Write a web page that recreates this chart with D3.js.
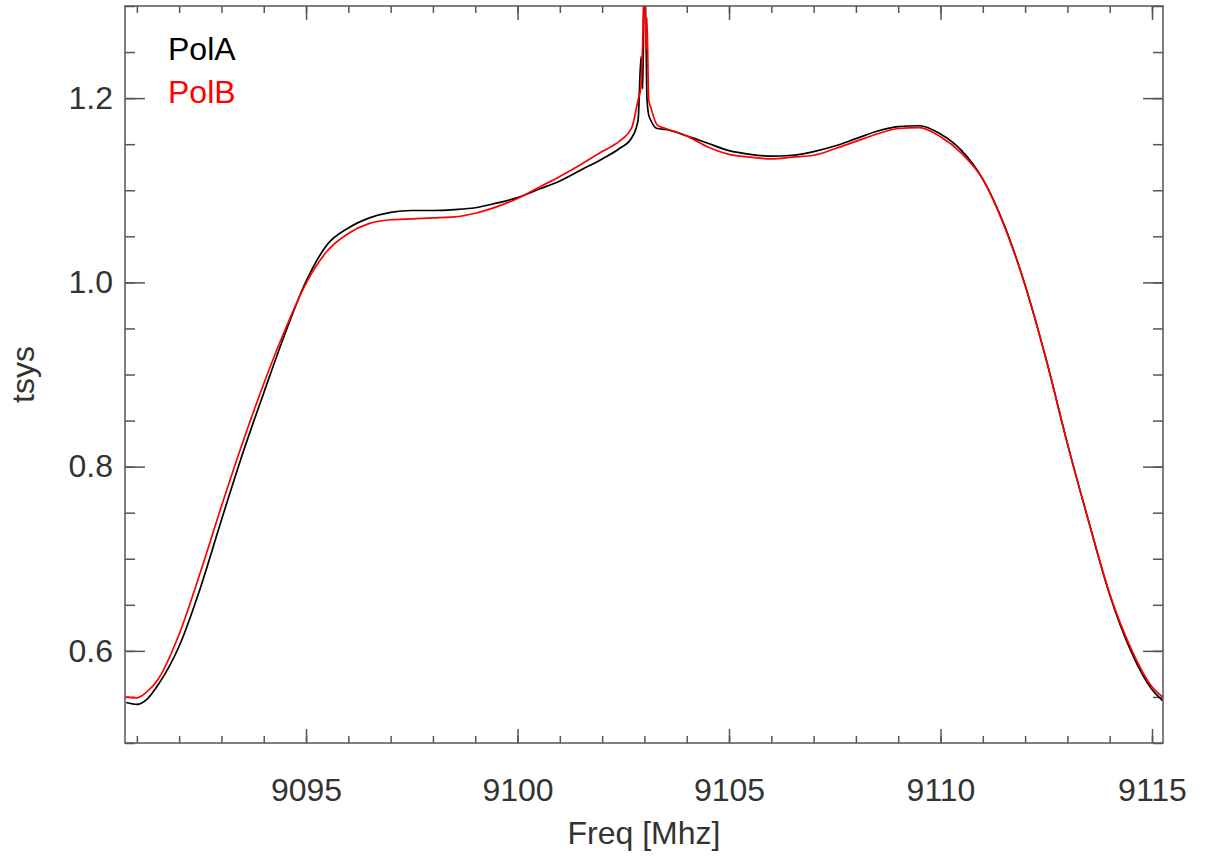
<!DOCTYPE html>
<html>
<head>
<meta charset="utf-8">
<script src="https://cdn.jsdelivr.net/npm/d3@7"></script>
<style>
  body { margin: 0; background: #fff; }
  text { font-family: "Liberation Sans", Arial, sans-serif; }
</style>
</head>
<body>
<svg id="chart"></svg>
<script>
// frequency grid [MHz], dense around the spike near 9103
const freq = [
  9090.75, 9091.0, 9091.25, 9091.5, 9092.0, 9092.5, 9093.0, 9093.5, 9094.0, 9094.5,
  9095.0, 9095.5, 9096.0, 9096.5, 9097.0, 9097.5, 9098.0, 9098.5, 9099.0, 9099.5,
  9100.0, 9100.5, 9101.0, 9101.5, 9102.0, 9102.4, 9102.7, 9102.85, 9102.92, 9102.96,
  9103.0, 9103.04, 9103.06, 9103.1, 9103.15, 9103.3, 9103.5, 9104.0, 9104.5, 9105.0,
  9105.5, 9106.0, 9106.5, 9107.0, 9107.5, 9108.0, 9108.5, 9109.0, 9109.5, 9110.0,
  9110.5, 9111.0, 9111.5, 9112.0, 9112.5, 9113.0, 9113.5, 9114.0, 9114.5, 9115.0,
  9115.25
];

const polA = [
  0.544, 0.542, 0.548, 0.563, 0.605, 0.668, 0.742, 0.814, 0.880, 0.944,
  1.001, 1.041, 1.059, 1.070, 1.076, 1.078, 1.078, 1.079, 1.081, 1.086,
  1.092, 1.101, 1.110, 1.122, 1.134, 1.145, 1.157, 1.176, 1.245, 1.210,
  1.340, 1.260, 1.200, 1.182, 1.176, 1.167, 1.166, 1.159, 1.151, 1.143,
  1.139, 1.137, 1.138, 1.142, 1.148, 1.156, 1.164, 1.169, 1.170, 1.161,
  1.143, 1.112, 1.063, 0.997, 0.916, 0.825, 0.741, 0.661, 0.600, 0.558,
  0.546
];

const polB = [
  0.550, 0.549, 0.556, 0.569, 0.618, 0.685, 0.757, 0.826, 0.890, 0.948,
  0.999, 1.034, 1.053, 1.064, 1.068, 1.069, 1.070, 1.071, 1.075, 1.082,
  1.091, 1.103, 1.115, 1.128, 1.142, 1.153, 1.168, 1.198, 1.213, 1.263,
  1.340, 1.253, 1.287, 1.198, 1.190, 1.171, 1.167, 1.159, 1.147, 1.139,
  1.136, 1.134, 1.136, 1.138, 1.145, 1.153, 1.161, 1.167, 1.168, 1.158,
  1.140, 1.112, 1.062, 0.997, 0.916, 0.825, 0.741, 0.662, 0.603, 0.561,
  0.550
];

const xMajor = [9095, 9100, 9105, 9110, 9115];
const xMinor = d3.range(9091, 9116, 1);
const yMajor = [0.6, 0.8, 1.0, 1.2];
const yMinor = d3.range(0.5, 1.301, 0.05);

const series = [
  { name: "PolA", values: polA, color: "#000000" },
  { name: "PolB", values: polB, color: "#ff0000" }
];

const W = 1206, H = 861;
const margin = { top: 6, right: 43, bottom: 118, left: 125 };
const width = W - margin.left - margin.right;
const height = H - margin.top - margin.bottom;

const svg = d3.select("#chart").attr("width", W).attr("height", H);
const g = svg.append("g").attr("transform", `translate(${margin.left},${margin.top})`);

const x = d3.scaleLinear().domain([9090.72, 9115.26]).range([0, width]);
const y = d3.scaleLinear().domain([0.5, 1.3]).range([height, 0]);

const axisColor = "#555";
const textColor = "#333";

function styleAxis(sel) {
  sel.select(".domain").remove();
  sel.selectAll(".tick line").attr("stroke", axisColor).attr("stroke-width", 1.5);
  sel.selectAll(".tick text").attr("fill", textColor).attr("font-size", "32px");
}

// bottom axis
g.append("g").attr("transform", `translate(0,${height})`)
  .call(d3.axisBottom(x).tickValues(xMinor).tickSize(-7).tickFormat(""))
  .call(styleAxis);
g.append("g").attr("transform", `translate(0,${height})`)
  .call(d3.axisBottom(x).tickValues(xMajor).tickSize(-14).tickPadding(35).tickFormat(d3.format("d")))
  .call(styleAxis);
// top axis
g.append("g")
  .call(d3.axisTop(x).tickValues(xMinor).tickSize(-7).tickFormat(""))
  .call(styleAxis);
g.append("g")
  .call(d3.axisTop(x).tickValues(xMajor).tickSize(-14).tickFormat(""))
  .call(styleAxis);
// left axis
g.append("g")
  .call(d3.axisLeft(y).tickValues(yMinor).tickSize(-10).tickFormat(""))
  .call(styleAxis);
g.append("g")
  .call(d3.axisLeft(y).tickValues(yMajor).tickSize(-20).tickPadding(12).tickFormat(d3.format(".1f")))
  .call(styleAxis);
// right axis
g.append("g").attr("transform", `translate(${width},0)`)
  .call(d3.axisRight(y).tickValues(yMinor).tickSize(-10).tickFormat(""))
  .call(styleAxis);
g.append("g").attr("transform", `translate(${width},0)`)
  .call(d3.axisRight(y).tickValues(yMajor).tickSize(-20).tickFormat(""))
  .call(styleAxis);

// clip the curves to the plot box
svg.append("defs").append("clipPath").attr("id", "plotclip")
  .append("rect").attr("width", width).attr("height", height);

const line = d3.line()
  .x((d, i) => x(freq[i]))
  .y(d => y(d))
  .curve(d3.curveMonotoneX);

g.append("g").attr("clip-path", "url(#plotclip)")
  .selectAll("path")
  .data(series)
  .join("path")
  .attr("fill", "none")
  .attr("stroke", d => d.color)
  .attr("stroke-width", 1.7)
  .attr("stroke-linejoin", "round")
  .attr("d", d => line(d.values));

// frame
g.append("rect")
  .attr("width", width).attr("height", height)
  .attr("fill", "none").attr("stroke", axisColor).attr("stroke-width", 1.5);

// legend
g.selectAll(".legend")
  .data(series)
  .join("text")
  .attr("class", "legend")
  .attr("x", 168 - margin.left)
  .attr("y", (d, i) => 60 - margin.top + i * 43)
  .attr("fill", d => d.color)
  .attr("font-size", "32px")
  .text(d => d.name);

// axis titles
svg.append("text")
  .attr("x", margin.left + width / 2)
  .attr("y", 844)
  .attr("text-anchor", "middle")
  .attr("fill", textColor)
  .attr("font-size", "32px")
  .text("Freq [Mhz]");

svg.append("text")
  .attr("transform", `translate(34,${margin.top + height / 2}) rotate(-90)`)
  .attr("text-anchor", "middle")
  .attr("fill", textColor)
  .attr("font-size", "32px")
  .text("tsys");
</script>
</body>
</html>
